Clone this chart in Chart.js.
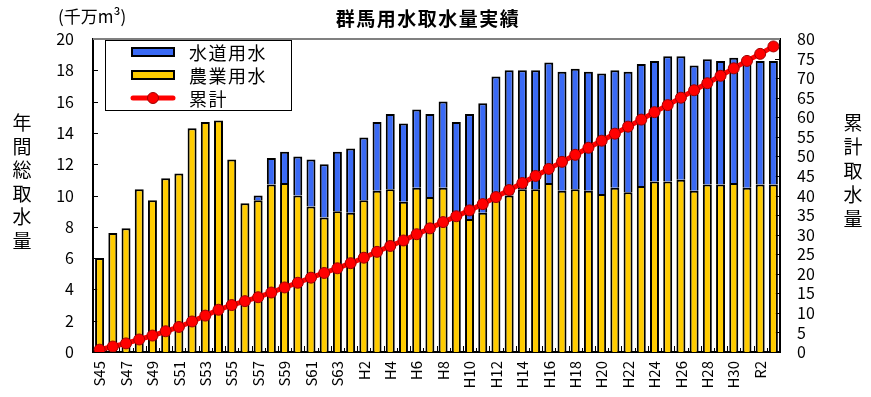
<!DOCTYPE html>
<html>
<head>
<meta charset="utf-8">
<script src="https://cdn.jsdelivr.net/npm/chart.js@4"></script>
<style>
  body { margin: 0; background: #fff; }
  canvas { display: block; }
</style>
</head>
<body>
<canvas id="waterChart" width="871" height="397"></canvas>
<script>
// years S45 (1970) .. R3 (2021)
const years = [
  'S45','S46','S47','S48','S49','S50','S51','S52','S53','S54','S55','S56','S57','S58','S59','S60','S61','S62','S63',
  'H1','H2','H3','H4','H5','H6','H7','H8','H9','H10','H11','H12','H13','H14','H15','H16','H17','H18','H19','H20',
  'H21','H22','H23','H24','H25','H26','H27','H28','H29','H30','R1','R2','R3'
];

// 農業用水 (千万m3)
const agriculture = [
  6.0, 7.6, 7.9, 10.4, 9.7, 11.1, 11.4, 14.3, 14.7, 14.8, 12.3, 9.5, 9.7, 10.7, 10.8, 10.0, 9.3, 8.6, 9.0,
  8.9, 9.7, 10.3, 10.4, 9.6, 10.5, 9.9, 10.5, 8.8, 8.5, 8.9, 9.7, 10.0, 10.4, 10.4, 10.8, 10.3, 10.4, 10.3, 10.1,
  10.5, 10.2, 10.6, 10.9, 10.9, 11.0, 10.3, 10.7, 10.7, 10.8, 10.5, 10.7, 10.7
];

// 水道用水 (千万m3)
const waterSupply = [
  null, null, null, null, null, null, null, null, null, null, null, null, 0.3, 1.7, 2.0, 2.5, 3.0, 3.4, 3.8,
  4.1, 4.0, 4.4, 4.8, 5.0, 5.0, 5.3, 5.5, 5.9, 6.7, 7.0, 7.9, 8.0, 7.6, 7.6, 7.7, 7.6, 7.7, 7.6, 7.7,
  7.5, 7.7, 7.8, 7.7, 8.0, 7.9, 8.0, 8.0, 7.9, 8.0, 8.2, 7.9, 7.9
];

// 累計 (right axis)
const cumulative = [
  0.6, 1.4, 2.2, 3.2, 4.2, 5.3, 6.4, 7.8, 9.3, 10.8, 12.0, 13.0, 14.0, 15.2, 16.5, 17.7, 19.0, 20.2, 21.4,
  22.7, 24.1, 25.6, 27.1, 28.5, 30.1, 31.6, 33.2, 34.7, 36.2, 37.8, 39.6, 41.4, 43.2, 45.0, 46.8, 48.6, 50.4, 52.2, 54.0,
  55.8, 57.6, 59.4, 61.3, 63.1, 65.0, 66.9, 68.7, 70.6, 72.5, 74.4, 76.2, 78.1
];

const BLUE = '#3a6af5';
const YELLOW = '#ffcc00';
const RED = '#ff0000';
const JP = '"Noto Sans CJK JP", "Noto Sans", sans-serif';

// titles, legend box and inner tick marks
const decorations = {
  id: 'decorations',
  beforeDatasetsDraw(chart) {
    const ctx = chart.ctx;
    const a = chart.chartArea;
    const x = chart.scales.x, y = chart.scales.y, y2 = chart.scales.y2;
    ctx.save();
    ctx.strokeStyle = '#000';
    ctx.lineWidth = 1;
    ctx.beginPath();
    for (let v = 2; v < 20; v += 2) {
      const py = Math.round(y.getPixelForValue(v)) + 0.5;
      ctx.moveTo(a.left, py); ctx.lineTo(a.left + 5, py);
    }
    for (let v = 5; v < 80; v += 5) {
      const py = Math.round(y2.getPixelForValue(v)) + 0.5;
      ctx.moveTo(a.right - 5, py); ctx.lineTo(a.right, py);
    }
    const step = (x.getPixelForValue(1) - x.getPixelForValue(0));
    for (let i = 1; i < years.length; i++) {
      const px = Math.round(x.getPixelForValue(i) - step / 2) + 0.5;
      ctx.moveTo(px, a.bottom); ctx.lineTo(px, a.bottom - (i % 2 ? 4 : 6));
    }
    ctx.stroke();
    ctx.restore();
  },
  afterDraw(chart) {
    const ctx = chart.ctx;
    const a = chart.chartArea;
    ctx.save();

    // grey top edge of the plot
    ctx.strokeStyle = '#808080';
    ctx.lineWidth = 2;
    ctx.beginPath();
    ctx.moveTo(a.left, a.top); ctx.lineTo(a.right, a.top);
    ctx.stroke();

    ctx.fillStyle = '#000';
    ctx.textBaseline = 'middle';

    ctx.font = 'bold 19px ' + JP;
    ctx.textAlign = 'center';
    ctx.letterSpacing = '1.5px';
    ctx.fillText('群馬用水取水量実績', 428, 19);
    ctx.letterSpacing = '0px';

    ctx.font = '17px ' + JP;
    ctx.textAlign = 'left';
    ctx.fillText('(千万m³)', 58, 17);

    ctx.font = '19px ' + JP;
    ctx.textAlign = 'center';
    '年間総取水量'.split('').forEach((c, i) => ctx.fillText(c, 22, 123 + i * 23.5));
    '累計取水量'.split('').forEach((c, i) => ctx.fillText(c, 853, 123 + i * 24));

    // legend
    ctx.fillStyle = '#fff';
    ctx.fillRect(105, 40, 187, 71);
    ctx.strokeStyle = '#000';
    ctx.lineWidth = 1;
    ctx.strokeRect(105.5, 40.5, 186, 70);

    const rows = [
      { label: '水道用水', color: BLUE, y: 52 },
      { label: '農業用水', color: YELLOW, y: 75 },
      { label: '累計', color: RED, y: 98, line: true }
    ];
    rows.forEach(r => {
      if (r.line) {
        ctx.strokeStyle = RED;
        ctx.lineWidth = 5;
        ctx.lineCap = 'round';
        ctx.beginPath();
        ctx.moveTo(133, r.y); ctx.lineTo(173, r.y);
        ctx.stroke();
        ctx.beginPath();
        ctx.arc(153, r.y, 5.5, 0, Math.PI * 2);
        ctx.fillStyle = RED;
        ctx.fill();
        ctx.strokeStyle = '#a00000';
        ctx.lineWidth = 1;
        ctx.stroke();
      } else {
        ctx.fillStyle = r.color;
        ctx.fillRect(132, r.y - 4, 42, 8);
        ctx.strokeStyle = '#000';
        ctx.lineWidth = 2;
        ctx.strokeRect(132, r.y - 4, 42, 8);
      }
      ctx.fillStyle = '#000';
      ctx.font = '18px ' + JP;
      ctx.textAlign = 'left';
      ctx.letterSpacing = '1.5px';
      ctx.fillText(r.label, 189, r.y + 1);
      ctx.letterSpacing = '0px';
    });
    ctx.restore();
  }
};

new Chart(document.getElementById('waterChart'), {
  data: {
    labels: years,
    datasets: [
      {
        type: 'line',
        label: '累計',
        data: cumulative,
        yAxisID: 'y2',
        borderColor: RED,
        borderWidth: 5,
        pointRadius: 5.5,
        pointBackgroundColor: RED,
        pointBorderColor: '#a00000',
        pointBorderWidth: 1,
        order: 0
      },
      {
        type: 'bar',
        label: '農業用水',
        data: agriculture,
        yAxisID: 'y',
        backgroundColor: YELLOW,
        borderColor: '#000',
        borderWidth: 2,
        order: 1
      },
      {
        type: 'bar',
        label: '水道用水',
        data: waterSupply,
        yAxisID: 'y',
        backgroundColor: BLUE,
        borderColor: '#000',
        borderWidth: 2,
        order: 1
      }
    ]
  },
  options: {
    responsive: false,
    animation: false,
    layout: { padding: { top: 39 } },
    datasets: {
      bar: { categoryPercentage: 1.0, barPercentage: 0.68 }
    },
    plugins: {
      legend: { display: false },
      title: { display: false },
      tooltip: { enabled: false }
    },
    scales: {
      x: {
        stacked: true,
        grid: { display: false, drawTicks: false },
        border: { color: '#000', width: 2 },
        ticks: {
          autoSkip: false,
          minRotation: 90,
          maxRotation: 90,
          padding: 9,
          color: '#000',
          font: { family: JP, size: 15 },
          callback: (v, i) => (i % 2 === 0 ? years[i] : '')
        },
        afterFit: s => { s.height = 45; }
      },
      y: {
        stacked: true,
        position: 'left',
        min: 0,
        max: 20,
        grid: { display: false, drawTicks: false },
        border: { color: '#000', width: 2 },
        ticks: {
          stepSize: 2,
          autoSkip: false,
          padding: 19,
          color: '#000',
          font: { family: JP, size: 16 }
        },
        afterFit: s => { s.width = 93; }
      },
      y2: {
        stacked: false,
        position: 'right',
        min: 0,
        max: 80,
        grid: { display: false, drawTicks: false },
        border: { color: '#000', width: 2 },
        ticks: {
          stepSize: 5,
          autoSkip: false,
          padding: 17,
          color: '#000',
          font: { family: JP, size: 16 }
        },
        afterFit: s => { s.width = 91; }
      }
    }
  },
  plugins: [decorations]
});
</script>
</body>
</html>
